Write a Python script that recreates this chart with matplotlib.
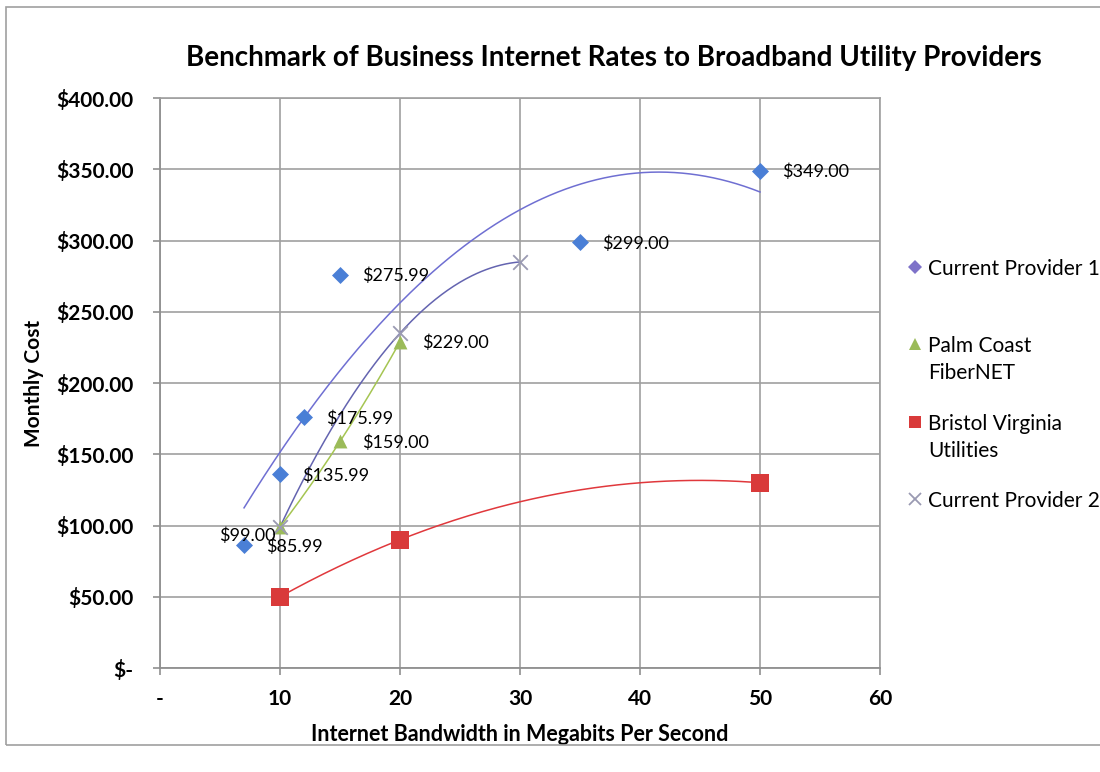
import numpy as np
import matplotlib
matplotlib.use("Agg")
import matplotlib.pyplot as plt
from matplotlib.lines import Line2D
from matplotlib.patches import Rectangle
from matplotlib.ticker import FuncFormatter, MultipleLocator

plt.rcParams['font.family'] = ['Lato', 'DejaVu Sans']

# data
cp1_x = [7, 10, 12, 15, 35, 50]
cp1_y = [85.99, 135.99, 175.99, 275.99, 299.00, 349.00]

palm_x = [10, 15, 20]
palm_y = [99.00, 159.00, 229.00]

bristol_x = [10, 20, 50]
bristol_y = [50, 90, 130]

cp2_x = [10, 20, 30]
cp2_y = [99, 235, 285]

series_names = ["Current Provider 1", "Palm Coast\nFiberNET",
                "Bristol Virginia\nUtilities", "Current Provider 2"]

fig = plt.figure(figsize=(11, 7.72), dpi=100)
ax = fig.add_axes([0.1455, 0.1347, 0.6545, 0.7383])

# outer chart frame
fig.add_artist(Rectangle((0.0055, 0.035), 1.2, 0.956, transform=fig.transFigure,
                         fill=False, edgecolor='#a0a0a0', lw=1.2))


def trend(x, y, color, lw=1.1):
    # 2nd order polynomial trendline like Excel
    c = np.polyfit(x, y, 2)
    xs = np.linspace(min(x), max(x), 200)
    ax.plot(xs, np.polyval(c, xs), color=color, lw=lw, zorder=3)


trend(cp1_x, cp1_y, '#6f6fd2')
trend(cp2_x, cp2_y, '#6464b0')
trend(palm_x, palm_y, '#a5c552')
trend(bristol_x, bristol_y, '#e0383c')

ax.scatter(cp1_x, cp1_y, marker='D', s=75, color='#4a7fd6', zorder=4, lw=0)
ax.scatter(palm_x, palm_y, marker='^', s=100, color='#9bbb59', zorder=4, lw=0)
ax.scatter(bristol_x, bristol_y, marker='s', s=150, color='#d93a3a', zorder=4, lw=0)
ax.scatter(cp2_x, cp2_y, marker='x', s=110, color='#9a9ab2', zorder=4, lw=1.3)

# data labels
for xv, yv in zip(cp1_x, cp1_y):
    ax.annotate(f"${yv:.2f}", (xv, yv), xytext=(16, -1), textcoords='offset points',
                ha='left', va='center', fontsize=13, zorder=5)
for xv, yv in zip(palm_x, palm_y):
    if xv == 10:
        ax.annotate(f"${yv:.2f}", (xv, yv), xytext=(-3, -6), textcoords='offset points',
                    ha='right', va='center', fontsize=13, zorder=5)
    else:
        ax.annotate(f"${yv:.2f}", (xv, yv), xytext=(16, -1), textcoords='offset points',
                    ha='left', va='center', fontsize=13, zorder=5)

ax.set_xlim(0, 60)
ax.set_ylim(0, 400)
ax.xaxis.set_major_locator(MultipleLocator(10))
ax.yaxis.set_major_locator(MultipleLocator(50))
ax.xaxis.set_major_formatter(FuncFormatter(lambda v, p: "-" if v == 0 else f"{v:.0f}"))
ax.yaxis.set_major_formatter(FuncFormatter(lambda v, p: "$-" if v == 0 else f"${v:,.2f}"))

ax.grid(True, color='#a0a0a0', lw=1.2)
ax.set_axisbelow(True)
for side in ['top', 'right']:
    ax.spines[side].set_color('#a0a0a0')
    ax.spines[side].set_linewidth(1.2)
for side in ['left', 'bottom']:
    ax.spines[side].set_color('#909090')
    ax.spines[side].set_linewidth(1.3)

ax.tick_params(axis='y', length=5, width=1.2, color='#909090', pad=14, labelsize=15)
ax.tick_params(axis='x', length=5, width=1.2, color='#909090', pad=10, labelsize=15)
for lab in ax.get_xticklabels() + ax.get_yticklabels():
    lab.set_fontweight('bold')

ax.set_xlabel("Internet Bandwidth in Megabits Per Second", fontsize=15.5,
              fontweight='bold', labelpad=11)
ax.set_ylabel("Monthly Cost", fontsize=15, fontweight='bold', labelpad=9)

fig.text(0.558, 0.925, "Benchmark of Business Internet Rates to Broadband Utility Providers",
         ha='center', va='center', fontsize=20, fontweight='bold')

# legend, laid out by hand like the Excel one
leg_markers = [('D', '#7e72c9', 7, 0), ('^', '#9bbb59', 9, 0),
               ('s', '#d93a3a', 9, 0), ('x', '#9a9ab2', 9, 1.3)]
leg_rows = [268, 345, 423, 500]   # pixel rows of the first text line
for (m, col, ms, mew), name, row in zip(leg_markers, series_names, leg_rows):
    yf = 1 - row / 772
    fig.add_artist(Line2D([915 / 1100], [yf + 0.001], marker=m, ls='none', color=col,
                          markersize=ms, mew=mew, transform=fig.transFigure))
    fig.text(928 / 1100, yf + 0.012, name, ha='left', va='top', fontsize=15,
             linespacing=1.45)

fig.savefig("out.png", dpi=100, facecolor='white')
